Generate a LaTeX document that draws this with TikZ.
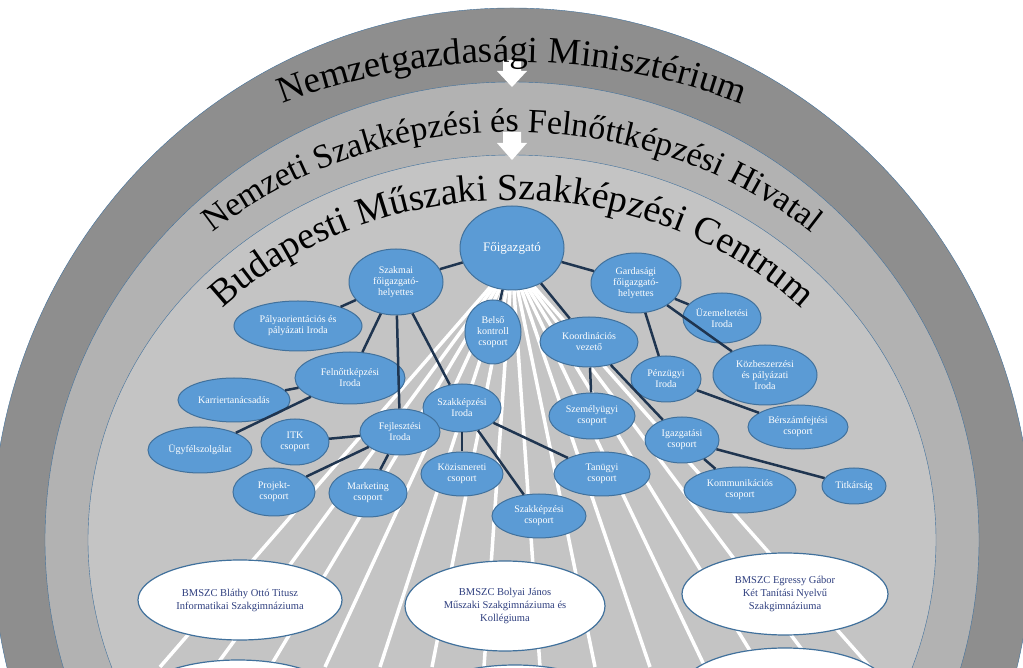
\documentclass[tikz,border=0pt]{standalone}
\usepackage{fontspec}
\setmainfont{Liberation Serif}
\usetikzlibrary{shapes.geometric,decorations.text}
\definecolor{bfill}{HTML}{5B9BD5}
\definecolor{bline}{HTML}{41719C}
\definecolor{edge}{HTML}{1F3550}
\definecolor{ringA}{HTML}{8E8E8E}
\definecolor{ringB}{HTML}{B2B2B2}
\definecolor{ringC}{HTML}{C4C4C4}
\definecolor{wtext}{HTML}{2F3F7F}
\tikzset{
 bnode/.style={ellipse,draw=bline,line width=1pt,fill=bfill,text=white,inner sep=0pt,align=center,font=\fontsize{10}{11}\selectfont},
 wnode/.style={ellipse,draw=bline,line width=1.2pt,fill=white,text=wtext,inner sep=0pt,align=center,font=\fontsize{10.5}{13}\selectfont},
 conn/.style={edge,line width=2.5pt},
 ray/.style={white,line width=3.5pt},
 arctext/.style={decoration={text along path,text align=center,text color=black},postaction={decorate}}
}
\begin{document}
\begin{tikzpicture}[x=1pt,y=1pt]
\useasboundingbox (0,0) rectangle (1023,667);
\begin{scope}
\clip (0,0) rectangle (1023,667);
\fill[white] (0,0) rectangle (1023,667);
\draw[bline,fill=ringA] (512,127) ellipse [x radius=520,y radius=532];
\draw[bline,fill=ringB] (512,127) ellipse [x radius=467,y radius=458];
\draw[bline,fill=ringC] (512,127) ellipse [x radius=424,y radius=385];
% arrows
\fill[white] (503,607) -- (521,607) -- (521,596) -- (527,596) -- (512,580) -- (497,596) -- (503,596) -- cycle;
\fill[white] (503,535) -- (521,535) -- (521,524) -- (527,524) -- (512,507) -- (497,524) -- (503,524) -- cycle;
% curved texts
\path[arctext,decoration={text={|\fontsize{37}{37}\selectfont|Nemzetgazdasági Minisztérium}}]
  (512,127) ++(180:560 and 478) arc[start angle=180,end angle=0,x radius=560,y radius=478];
\path[arctext,decoration={text={|\fontsize{34}{34}\selectfont|Nemzeti Szakképzési és Felnőttképzési Hivatal}}]
  (512,127) ++(180:455 and 408) arc[start angle=180,end angle=0,x radius=455,y radius=408];
\path[arctext,decoration={text={|\fontsize{38}{38}\selectfont|Budapesti Műszaki Szakképzési Centrum}}]
  (512,127) ++(180:395 and 340) arc[start angle=180,end angle=0,x radius=395,y radius=340];
% rays
\coordinate (Fc) at (512,405);
\foreach \bx in {160,215,270,325,380,432,484,540,595,650,705,760,815,870}
  \draw[ray] (Fc) -- (\bx,0);
% nodes
\node[bnode,minimum width=104,minimum height=84,font=\fontsize{13}{14}\selectfont] (F) at (512,419) {Főigazgató};
\node[bnode,minimum width=94,minimum height=66] (SZ) at (396,385) {Szakmai\\főigazgató-\\helyettes};
\node[bnode,minimum width=90,minimum height=60] (G) at (636,384) {Gardasági\\főigazgató-\\helyettes};
\node[bnode,minimum width=128,minimum height=50] (PA) at (298,341) {Pályaorientációs és\\pályázati Iroda};
\node[bnode,minimum width=56,minimum height=64] (BK) at (493,335) {Belső\\kontroll\\csoport};
\node[bnode,minimum width=98,minimum height=50] (KO) at (589,325) {Koordinációs\\vezető};
\node[bnode,minimum width=78,minimum height=50] (UZ) at (722,349) {Üzemeltetési\\Iroda};
\node[bnode,minimum width=110,minimum height=52] (FE) at (350,289) {Felnőttképzési\\Iroda};
\node[bnode,minimum width=112,minimum height=44] (KA) at (234,267) {Karriertanácsadás};
\node[bnode,minimum width=70,minimum height=46] (PE) at (666,288) {Pénzügyi\\Iroda};
\node[bnode,minimum width=104,minimum height=60] (KB) at (765,292) {Közbeszerzési\\és pályázati\\Iroda};
\node[bnode,minimum width=78,minimum height=48] (SI) at (462,259) {Szakképzési\\Iroda};
\node[bnode,minimum width=86,minimum height=46] (SE) at (592,251) {Személyügyi\\csoport};
\node[bnode,minimum width=80,minimum height=46] (FJ) at (400,235) {Fejlesztési\\Iroda};
\node[bnode,minimum width=68,minimum height=46] (IT) at (295,225) {ITK\\csoport};
\node[bnode,minimum width=104,minimum height=46] (UG) at (200,217) {Ügyfélszolgálat};
\node[bnode,minimum width=74,minimum height=46] (IG) at (682,227) {Igazgatási\\csoport};
\node[bnode,minimum width=100,minimum height=44] (BE) at (798,240) {Bérszámfejtési\\csoport};
\node[bnode,minimum width=82,minimum height=44] (KI) at (462,193) {Közismereti\\csoport};
\node[bnode,minimum width=96,minimum height=44] (TA) at (602,193) {Tanügyi\\csoport};
\node[bnode,minimum width=82,minimum height=48] (PR) at (274,175) {Projekt-\\csoport};
\node[bnode,minimum width=78,minimum height=48] (MA) at (368,174) {Marketing\\csoport};
\node[bnode,minimum width=112,minimum height=46] (KM) at (740,177) {Kommunikációs\\csoport};
\node[bnode,minimum width=64,minimum height=36] (TI) at (854,181) {Titkárság};
\node[bnode,minimum width=94,minimum height=44] (SC) at (539,151) {Szakképzési\\csoport};
\node[wnode,minimum width=204,minimum height=80] (W1) at (240,67) {BMSZC Bláthy Ottó Titusz\\Informatikai Szakgimnáziuma};
\node[wnode,minimum width=200,minimum height=90] (W2) at (505,61) {BMSZC Bolyai János\\Műszaki Szakgimnáziuma és\\Kollégiuma};
\node[wnode,minimum width=206,minimum height=82] (W3) at (785,73) {BMSZC Egressy Gábor\\Két Tanítási Nyelvű\\Szakgimnáziuma};
\node[wnode,minimum width=204,minimum height=80] (W4) at (238,-33) {BMSZC Neumann János\\ \\ };
\node[wnode,minimum width=200,minimum height=80] (W5) at (515,-38) {};
\node[wnode,minimum width=206,minimum height=82] (W6) at (785,-22) {BMSZC Petrik Lajos\\Két Tanítási Nyelvű\\ };
% connectors
\draw[conn] (F) -- (SZ);
\draw[conn] (F) -- (G);
\draw[conn] (F) -- (BK);
\draw[conn] (F) -- (KO);
\draw[conn] (SZ) -- (PA);
\draw[conn] (SZ) -- (FE);
\draw[conn] (SZ) -- (FJ);
\draw[conn] (SZ) -- (SI);
\draw[conn] (FE) -- (KA);
\draw[conn] (FE) -- (UG);
\draw[conn] (FJ) -- (IT);
\draw[conn] (FJ) -- (PR);
\draw[conn] (FJ) -- (MA);
\draw[conn] (SI) -- (KI);
\draw[conn] (SI) -- (TA);
\draw[conn] (SI) -- (SC);
\draw[conn] (G) -- (UZ);
\draw[conn] (G) -- (PE);
\draw[conn] (G) -- (KB);
\draw[conn] (PE) -- (BE);
\draw[conn] (KO) -- (SE);
\draw[conn] (KO) -- (IG);
\draw[conn] (IG) -- (KM);
\draw[conn] (IG) -- (TI);
\end{scope}
\end{tikzpicture}
\end{document}
